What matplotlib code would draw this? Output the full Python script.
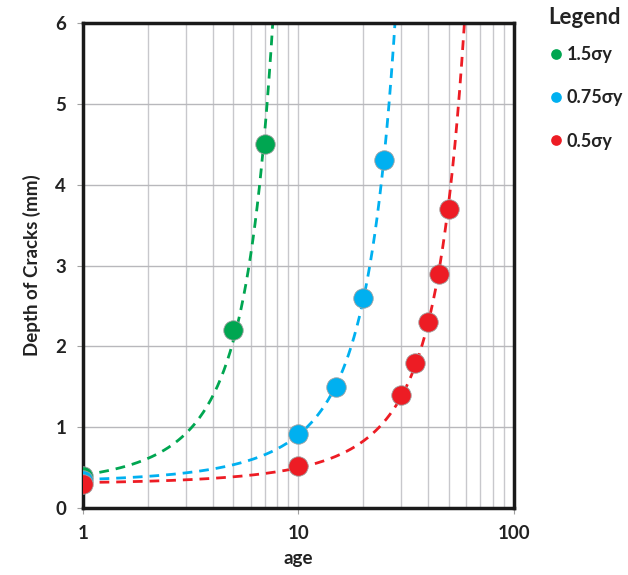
import numpy as np
import matplotlib
matplotlib.use("Agg")
from matplotlib import pyplot as plt
from matplotlib.ticker import LogLocator, FixedLocator, NullFormatter

plt.rcParams['font.family'] = ['Lato', 'DejaVu Sans']

# data
green_age = [1, 5, 7]
green_depth = [0.4, 2.2, 4.5]
blue_age = [1, 10, 15, 20, 25]
blue_depth = [0.35, 0.92, 1.5, 2.6, 4.3]
red_age = [1, 10, 30, 35, 40, 45, 50]
red_depth = [0.3, 0.52, 1.4, 1.8, 2.3, 2.9, 3.7]

labels = ['1.5σy', '0.75σy', '0.5σy']
colors = ['#00A651', '#00B0F0', '#ED1C24']

fig = plt.figure(figsize=(6.28, 5.75), dpi=100)
ax = fig.add_axes([0.132, 0.1165, 0.686, 0.8435])

series = [(green_age, green_depth), (blue_age, blue_depth), (red_age, red_depth)]
for (xs, ys), lab, col in zip(series, labels, colors):
    # exponential trendline (least squares on log y), like the excel one
    b, lna = np.polyfit(xs, np.log(ys), 1)
    xx = np.linspace(1, 100, 2000)
    yy = np.exp(lna + b * xx)
    ax.plot(xx, yy, '--', color=col, lw=2, dashes=(3.5, 2.5), zorder=2)
    ax.plot(xs, ys, 'o', color=col, ms=14, mec='#a0a0a0', mew=0.6,
            label=lab, zorder=3)

ax.set_xscale('log')
ax.set_xlim(1, 100)
ax.set_ylim(0, 6)
ax.xaxis.set_major_locator(FixedLocator([1, 10, 100]))
ax.set_xticklabels(['1', '10', '100'])
ax.xaxis.set_minor_locator(LogLocator(base=10, subs=np.arange(2, 10)))
ax.xaxis.set_minor_formatter(NullFormatter())
ax.set_yticks(range(7))

ax.grid(True, which='both', axis='x', color='#c8c8cc', lw=1)
ax.grid(True, which='major', axis='y', color='#b8b8bc', lw=1)
ax.set_axisbelow(True)
ax.tick_params(axis='x', which='minor', length=0)
ax.tick_params(axis='both', which='major', length=4, color='#a0a0a0',
               labelsize=13.5, pad=8)
for t in ax.get_xticklabels() + ax.get_yticklabels():
    t.set_fontweight('bold')
    t.set_color('#222222')

for s in ax.spines.values():
    s.set_linewidth(2.5)
    s.set_color('#1a1a1a')

ax.set_xlabel('age', fontsize=13.5, fontweight='bold', color='#222222', labelpad=6)
ax.set_ylabel('Depth of Cracks (mm)', fontsize=13.5, fontweight='bold',
              color='#222222', labelpad=10)

# legend title drawn on its own so the spacing can match
fig.text(548 / 628, 1 - 18 / 575, 'Legend', fontsize=16, fontweight='bold',
         color='#222222', ha='left', va='center')
leg = ax.legend(loc='upper left', bbox_to_anchor=(1.075, 0.952), frameon=False,
                markerscale=0.55, handletextpad=0.05,
                handlelength=1.1, labelspacing=1.45, borderpad=0,
                borderaxespad=0, prop={'weight': 'bold', 'size': 13})
for t in leg.get_texts():
    t.set_color('#222222')
for h in leg.legend_handles:
    h.set_markeredgewidth(0)

fig.savefig('out.png', dpi=100)
